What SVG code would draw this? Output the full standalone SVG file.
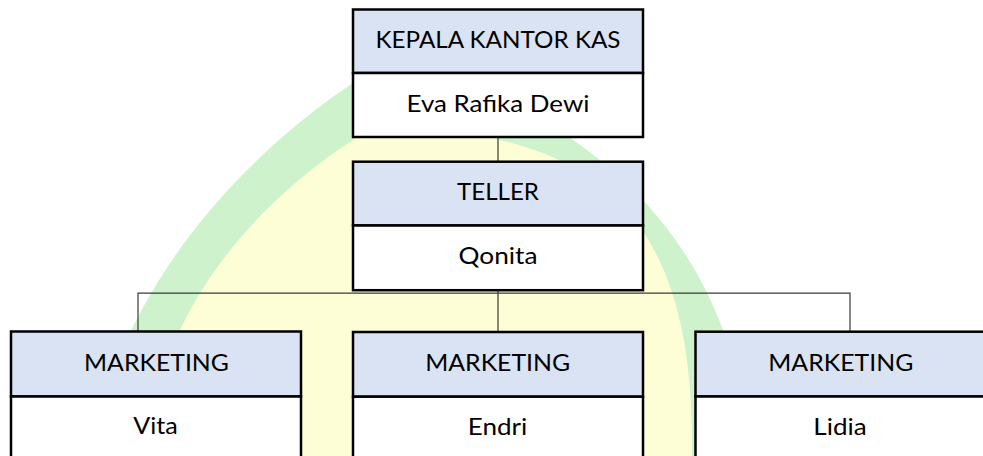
<svg xmlns="http://www.w3.org/2000/svg" width="983" height="456" viewBox="0 0 983 456">
<style>
.hd{fill:#dae3f3;stroke:#000;stroke-width:2.5}
.bd{fill:#fff;stroke:#000;stroke-width:2.5}
.tx{font-family:Lato,"Open Sans","Liberation Sans",sans-serif;font-size:23.5px;fill:#000;text-anchor:middle}
.cn{fill:none;stroke:#3a3a3a;stroke-width:1.2}
</style>
<rect width="983" height="456" fill="#fff"/>
<g id="watermark">
<path d="M 98,456 C 100,345 195,190 350,85 C 420,35 500,60 573,140 C 660,200 740,300 748,456 Z" fill="#cdf2cc"/>
<path d="M 150,456 C 150,340 230,220 353,140 C 400,105 460,115 500,140 C 630,170 695,260 692,456 Z" fill="#fefed6"/>
</g>
<g id="connectors">
<line class="cn" x1="498" y1="137" x2="498" y2="162"/>
<line class="cn" x1="498" y1="290" x2="498" y2="332"/>
<polyline class="cn" points="138,332 138,293.2 850,293.2 850,332"/>
</g>
<g id="kepala">
<rect class="hd" x="353" y="9.5" width="290" height="63.5"/>
<rect class="bd" x="353" y="73" width="290" height="64"/>
<text class="tx" x="498" y="48.3" textLength="245" lengthAdjust="spacingAndGlyphs">KEPALA KANTOR KAS</text>
<text class="tx" x="498" y="111.7" textLength="183" lengthAdjust="spacingAndGlyphs">Eva Rafika Dewi</text>
</g>
<g id="teller">
<rect class="hd" x="353" y="161.7" width="290" height="63.8"/>
<rect class="bd" x="353" y="225.5" width="290" height="64.7"/>
<text class="tx" x="498" y="200" textLength="82" lengthAdjust="spacingAndGlyphs">TELLER</text>
<text class="tx" x="498" y="264.3" textLength="79" lengthAdjust="spacingAndGlyphs">Qonita</text>
</g>
<g id="marketing-vita">
<rect class="hd" x="11" y="331.5" width="290" height="65"/>
<rect class="bd" x="11" y="396.5" width="290" height="70"/>
<text class="tx" x="156.5" y="370.7" textLength="145" lengthAdjust="spacingAndGlyphs">MARKETING</text>
<text class="tx" x="155.5" y="434.3" textLength="44.6" lengthAdjust="spacingAndGlyphs">Vita</text>
</g>
<g id="marketing-endri">
<rect class="hd" x="353" y="332" width="290" height="64.7"/>
<rect class="bd" x="353" y="396.7" width="290" height="70"/>
<text class="tx" x="497.7" y="370.5" textLength="145" lengthAdjust="spacingAndGlyphs">MARKETING</text>
<text class="tx" x="497.5" y="434.8" textLength="59.6" lengthAdjust="spacingAndGlyphs">Endri</text>
</g>
<g id="marketing-lidia">
<rect class="hd" x="695.5" y="331.7" width="290" height="64.8"/>
<rect class="bd" x="695.5" y="396.5" width="290" height="70"/>
<text class="tx" x="840.8" y="370.5" textLength="145" lengthAdjust="spacingAndGlyphs">MARKETING</text>
<text class="tx" x="840" y="434.5" textLength="53.4" lengthAdjust="spacingAndGlyphs">Lidia</text>
</g>
</svg>
